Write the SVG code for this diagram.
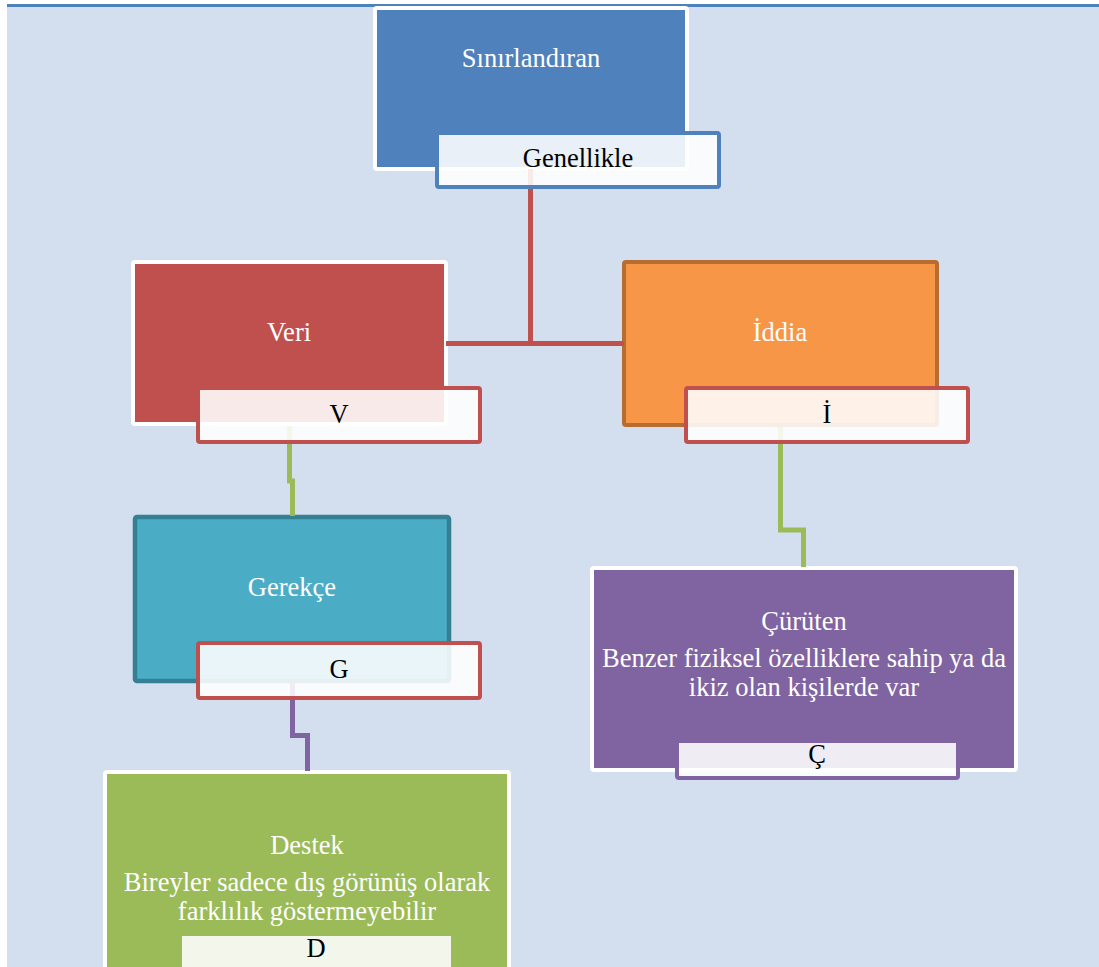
<svg xmlns="http://www.w3.org/2000/svg" width="1099" height="967" viewBox="0 0 1099 967">
<style>
text{font-family:"Liberation Serif","Times New Roman",serif;font-size:26.5px;text-anchor:middle}
.t{fill:#FFFFFF}
.l{fill:#000000}
.lb{fill:#FFFFFF;fill-opacity:0.88;stroke-width:4}
.c{fill:none;stroke-width:5;stroke-linejoin:miter}
</style>
<rect x="0" y="0" width="1099" height="967" fill="#FFFFFF"/>
<rect x="7" y="4" width="1092" height="963" fill="#D3DFEE"/>
<rect x="7" y="4" width="1092" height="3" fill="#4F81BD"/>

<g id="node-sinirlandiran">
<rect x="375" y="8" width="312" height="161" rx="2" fill="#4F81BD" stroke="#FFFFFF" stroke-width="4"/>
<text class="t" x="531" y="67">Sınırlandıran</text>
</g>
<g id="node-veri">
<rect x="133" y="262" width="313" height="162" rx="2" fill="#C0504D" stroke="#FFFFFF" stroke-width="4"/>
<text class="t" x="289" y="341">Veri</text>
</g>
<g id="node-iddia">
<rect x="624" y="262" width="313" height="163" rx="2" fill="#F79646" stroke="#B66D31" stroke-width="4"/>
<text class="t" x="780" y="341">İddia</text>
</g>
<g id="node-gerekce">
<rect x="135" y="517" width="314" height="164" rx="2" fill="#4BACC6" stroke="#357F93" stroke-width="4.5"/>
<text class="t" x="292" y="596">Gerekçe</text>
</g>
<g id="node-curuten">
<rect x="592" y="568" width="424" height="202" rx="2" fill="#8064A2" stroke="#FFFFFF" stroke-width="4"/>
<text class="t" x="804" y="630">Çürüten</text>
<text class="t" x="804" y="666.5">Benzer fiziksel özelliklere sahip ya da</text>
<text class="t" x="804" y="696">ikiz olan kişilerde var</text>
</g>
<g id="node-destek">
<rect x="105" y="772" width="404" height="210" rx="2" fill="#9BBB59" stroke="#FFFFFF" stroke-width="4"/>
<text class="t" x="307" y="854">Destek</text>
<text class="t" x="307" y="890.5">Bireyler sadece dış görünüş olarak</text>
<text class="t" x="307" y="920">farklılık göstermeyebilir</text>
</g>

<g id="connectors">
<path class="c" stroke="#C0504D" d="M530.5,169 V343.5"/>
<path class="c" stroke="#C0504D" d="M446,343.5 H624"/>
<path class="c" stroke="#9BBB59" d="M289.5,426 V481 H292.5 V516"/>
<path class="c" stroke="#9BBB59" d="M780.5,427 V530 H803.5 V567"/>
<path class="c" stroke="#8064A2" d="M292.5,682 V735.5 H307.5 V771"/>
</g>

<g id="label-genellikle">
<rect class="lb" x="437" y="133" width="282" height="54" rx="2" stroke="#4F81BD"/>
<text class="l" x="578" y="167">Genellikle</text>
</g>
<g id="label-v">
<rect class="lb" x="198" y="388" width="282" height="54" rx="2" stroke="#C0504D"/>
<text class="l" x="339" y="423">V</text>
</g>
<g id="label-i">
<rect class="lb" x="686" y="388" width="282" height="54" rx="2" stroke="#C0504D"/>
<text class="l" x="827" y="423">İ</text>
</g>
<g id="label-g">
<rect class="lb" x="198" y="643" width="282" height="55" rx="2" stroke="#C0504D"/>
<text class="l" x="339" y="678">G</text>
</g>
<g id="label-c">
<rect class="lb" x="677" y="741" width="281" height="37" rx="2" stroke="#8064A2"/>
<text class="l" x="817" y="763">Ç</text>
</g>
<g id="label-d">
<rect class="lb" x="180" y="934" width="273" height="40" rx="2" stroke="#9BBB59"/>
<text class="l" x="316" y="957">D</text>
</g>
</svg>
